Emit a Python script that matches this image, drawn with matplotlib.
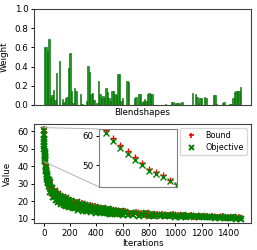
import matplotlib
matplotlib.use('Agg')
import matplotlib.pyplot as plt
from mpl_toolkits.axes_grid1.inset_locator import mark_inset

# blendshape weights
weights = [
    0.60, 0.60, 0.56, 0.69, 0.08, 0.10, 0.16, 0.05, 0.33, 0.00,
    0.46, 0.00, 0.06, 0.03, 0.07, 0.08, 0.39, 0.54, 0.15, 0.02,
    0.18, 0.15, 0.00, 0.00, 0.11, 0.01, 0.00, 0.00, 0.04, 0.41,
    0.34, 0.11, 0.12, 0.05, 0.00, 0.02, 0.25, 0.11, 0.07, 0.09,
    0.07, 0.18, 0.14, 0.07, 0.04, 0.15, 0.15, 0.11, 0.10, 0.32,
    0.32, 0.04, 0.07, 0.00, 0.00, 0.25, 0.24, 0.00, 0.00, 0.00,
    0.07, 0.08, 0.00, 0.11, 0.11, 0.03, 0.04, 0.06, 0.04, 0.11,
    0.12, 0.11, 0.11, 0.00, 0.00, 0.00, 0.00, 0.00, 0.00, 0.00,
    0.00, 0.01, 0.00, 0.00, 0.00, 0.03, 0.03, 0.00, 0.02, 0.02,
    0.02, 0.00, 0.03, 0.00, 0.00, 0.00, 0.00, 0.00, 0.00, 0.13,
    0.00, 0.11, 0.08, 0.02, 0.07, 0.07, 0.00, 0.08, 0.07, 0.00,
    0.00, 0.00, 0.00, 0.10, 0.10, 0.01, 0.00, 0.00, 0.00, 0.02,
    0.03, 0.00, 0.00, 0.00, 0.01, 0.01, 0.07, 0.14, 0.15, 0.15,
    0.15, 0.19,
]

# optimisation trace (sampled iterations)
iters = (list(range(0, 11)) + list(range(12, 41, 2)) + list(range(45, 201, 5))
         + list(range(210, 601, 10)) + list(range(620, 1501, 20)))

objective = [
    60.7, 58.1, 55.9, 53.8, 51.9, 50.1, 48.3, 47.2, 46.1, 44.7, 43.6,
    42.9, 39.3, 39.3, 37.1, 37.6, 34.1, 35.3, 32.9, 34.6, 30.9, 32.3, 30.2,
    32.1, 28.6, 30.2,
    30.7, 25.4, 27.7, 24.7, 27.6, 22.6, 25.2, 22.5, 25.6, 20.8, 23.5, 21.0,
    24.1, 19.4, 22.3, 19.8, 23.1, 18.4, 21.3, 18.9, 22.2, 17.6, 20.5, 18.2,
    21.5, 16.9, 19.9, 17.6, 20.9, 16.4, 19.4, 17.0,
    20.1, 15.9, 18.5, 16.3, 19.3, 15.1, 17.7, 15.5, 18.55, 14.4,
    17.85, 14.5, 16.55, 14.8, 17.25, 13.9, 16.0, 14.3, 16.75, 13.4,
    16.2, 13.5, 15.2, 13.8, 15.8, 13.1, 14.8, 13.4, 15.4, 12.7,
    14.9, 12.8, 14.12, 13.05, 14.58, 12.5, 13.82, 12.75, 14.28, 12.2,
    13.85, 12.1, 13.1, 12.2, 13.4, 11.7, 12.7, 11.8, 13.0, 11.3,
    12.5, 11.4, 12.05, 11.5, 12.2, 11.15, 11.8, 11.25, 12.0, 10.95,
    11.6, 11.05, 11.8, 10.75, 11.4,
    11.45, 10.8, 11.15, 10.8, 11.25, 10.6, 10.95, 10.6, 11.05, 10.4,
    10.75, 10.4, 10.85, 10.2, 10.55, 10.2, 10.65, 10.0, 10.35, 10.0,
]
bound = [
    61.7, 59.1, 56.8, 54.7, 52.7, 50.8, 48.9, 47.8, 46.7, 45.2, 43.8,
    43.2, 39.6, 39.6, 37.4, 37.9, 34.4, 35.6, 33.2, 34.9, 31.2, 32.6, 30.5,
    32.4, 28.9, 30.5,
    31.0, 25.7, 28.0, 25.0, 27.9, 22.9, 25.5, 22.8, 25.9, 21.1, 23.8, 21.3,
    24.4, 19.7, 22.6, 20.1, 23.4, 18.7, 21.6, 19.2, 22.5, 17.9, 20.8, 18.5,
    21.8, 17.2, 20.2, 17.9, 21.2, 16.7, 19.7, 17.3,
    20.4, 16.2, 18.8, 16.6, 19.6, 15.4, 18.0, 15.8, 18.85, 14.7,
    18.15, 14.8, 16.85, 15.1, 17.55, 14.2, 16.3, 14.6, 17.05, 13.7,
    16.5, 13.8, 15.5, 14.1, 16.1, 13.4, 15.1, 13.7, 15.7, 13.0,
    15.2, 13.1, 14.42, 13.35, 14.88, 12.8, 14.12, 13.05, 14.58, 12.5,
    14.15, 12.4, 13.4, 12.5, 13.7, 12.0, 13.0, 12.1, 13.3, 11.6,
    12.8, 11.7, 12.35, 11.8, 12.5, 11.45, 12.1, 11.55, 12.3, 11.25,
    11.9, 11.35, 12.1, 11.05, 11.7,
    11.75, 11.1, 11.45, 11.1, 11.55, 10.9, 11.25, 10.9, 11.35, 10.7,
    11.05, 10.7, 11.15, 10.5, 10.85, 10.5, 10.95, 10.3, 10.65, 10.3,
]

plt.rcParams['font.size'] = 6.3

fig = plt.figure(figsize=(2.57, 2.5), dpi=100)
ax1 = fig.add_axes([0.132, 0.58, 0.845, 0.384])
ax2 = fig.add_axes([0.132, 0.108, 0.845, 0.396])

# top: blendshape weights
ax1.bar(range(len(weights)), weights, width=1.0, color='#1f9a1f', edgecolor='darkgreen', linewidth=0.4)
ax1.set_ylim(0, 1)
ax1.set_xticks([])
ax1.set_xlabel('Blendshapes', labelpad=2)
ax1.set_ylabel('Weight')

# bottom: bound / objective over iterations
ax2.plot(iters, bound, 'r+', ms=4.5, mew=1.2, label='Bound')
ax2.plot(iters, objective, 'x', color='green', ms=4.5, mew=1.4, label='Objective')
ax2.set_xticks(range(0, 1401, 200))
ax2.set_yticks(range(10, 61, 10))
ax2.set_xlabel('Iterations', labelpad=1)
ax2.set_ylabel('Value')
ax2.legend(loc='upper right', fontsize=5.8, handletextpad=0.8, borderpad=0.4,
           labelspacing=0.3, markerscale=0.8)

axins = ax2.inset_axes([0.30, 0.364, 0.36, 0.586])
axins.plot(iters, bound, 'r+', ms=4, mew=1.0)
axins.plot(iters, objective, 'x', color='green', ms=4, mew=1.0)
axins.set_xlim(-1, 10)
axins.set_ylim(42.8, 62.2)
axins.set_xticks([])
axins.set_yticks([50, 60])
mark_inset(ax2, axins, loc1=2, loc2=3, fc='none', ec='0.7', lw=0.7)

for a in (ax1, ax2, axins):
    a.tick_params(length=2.5, width=0.7, pad=1.5)
    for s in a.spines.values():
        s.set_linewidth(0.8)
        s.set_edgecolor('0.25')
for s in axins.spines.values():
    s.set_edgecolor('0.5')

plt.savefig('out.png', dpi=100)
plt.close()
